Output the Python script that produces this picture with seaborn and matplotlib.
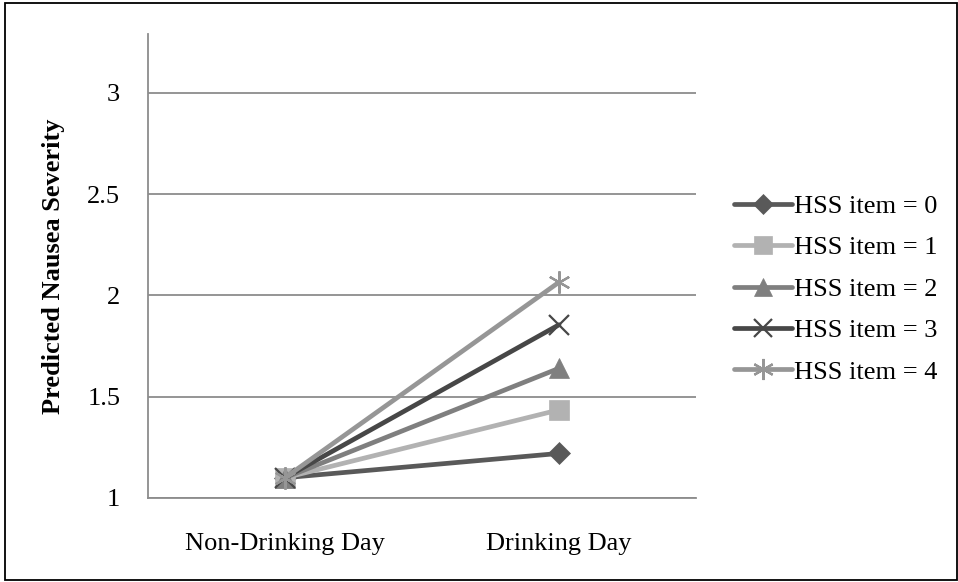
import matplotlib
matplotlib.use("Agg")
import matplotlib.pyplot as plt
import seaborn as sns
import pandas as pd
from matplotlib.patches import Rectangle

categories = ["Non-Drinking Day", "Drinking Day"]
series_names = ["HSS item = 0", "HSS item = 1", "HSS item = 2", "HSS item = 3", "HSS item = 4"]
hss0 = [1.10, 1.22]
hss1 = [1.10, 1.435]
hss2 = [1.10, 1.64]
hss3 = [1.10, 1.855]
hss4 = [1.10, 2.065]
yticks = [1, 1.5, 2, 2.5, 3]
ytick_labels = ["1", "1.5", "2", "2.5", "3"]

values = [hss0, hss1, hss2, hss3, hss4]
rows = []
for name, vals in zip(series_names, values):
    for i, v in enumerate(vals):
        rows.append({"pos": i, "value": v, "series": name})
df = pd.DataFrame(rows)

sns.set_theme(style="white")
plt.rcParams['font.family'] = ['Liberation Serif', 'DejaVu Serif']
plt.rcParams['text.color'] = 'black'
plt.rcParams['xtick.color'] = 'black'
plt.rcParams['ytick.color'] = 'black'
plt.rcParams['axes.labelcolor'] = 'black'

colors = {"HSS item = 0": "#595959", "HSS item = 1": "#b2b2b2", "HSS item = 2": "#7f7f7f",
          "HSS item = 3": "#474747", "HSS item = 4": "#969696"}
markers = {"HSS item = 0": "D", "HSS item = 1": "s", "HSS item = 2": "^",
           "HSS item = 3": "x", "HSS item = 4": (6, 2, 0)}
ms = {"HSS item = 0": 11, "HSS item = 1": 14, "HSS item = 2": 14,
      "HSS item = 3": 14, "HSS item = 4": 16}
mew = {"HSS item = 0": 0.5, "HSS item = 1": 0.5, "HSS item = 2": 0.5,
       "HSS item = 3": 1.6, "HSS item = 4": 1.6}

fig = plt.figure(figsize=(9.58, 5.82), dpi=100)
ax = fig.add_axes([148/958, 1-498/582, (696-148)/958, (498-34)/582])

for name in series_names:
    sub = df[df["series"] == name]
    sns.lineplot(data=sub, x="pos", y="value", color=colors[name], marker=markers[name],
                 markersize=ms[name], markeredgecolor=colors[name], markerfacecolor=colors[name],
                 markeredgewidth=mew[name], linewidth=3.4, ax=ax, zorder=3)

ax.set_xlim(-0.5, 1.5)
ax.set_ylim(1, 3.29)
ax.set_yticks(yticks)
ax.set_yticklabels(ytick_labels, fontsize=19)
ax.set_xticks([0, 1])
ax.set_xticklabels(categories, fontsize=19)
ax.set_xticks([-0.5, 0.5, 1.5], minor=True)
ax.tick_params(axis='x', which='major', length=0, pad=25, labelcolor="black")
ax.tick_params(axis='x', which='minor', length=7, width=1.2, color="#8c8c8c", direction='out')
ax.tick_params(axis='y', which='major', length=8, width=1.2, color="#8c8c8c",
               labelcolor="black", direction='out', pad=12)
ax.yaxis.grid(True, color="#8c8c8c", linewidth=1.3)
ax.set_axisbelow(True)
for s in ["top", "right"]:
    ax.spines[s].set_visible(False)
for s in ["left", "bottom"]:
    ax.spines[s].set_color("#8c8c8c")
    ax.spines[s].set_linewidth(1.3)
ax.set_xlabel("")
ax.set_ylabel("Predicted Nausea Severity", fontsize=19, fontweight="bold", color="black")
ax.yaxis.set_label_coords(-0.151, 0.5)

handles = [plt.Line2D([], [], color=colors[n], marker=markers[n], lw=3.4,
                      markersize=ms[n] * 0.95, markeredgecolor=colors[n],
                      markerfacecolor=colors[n], markeredgewidth=mew[n])
           for n in series_names]
leg = fig.legend(handles, series_names, loc="center left", bbox_to_anchor=(734/958, 1-289/582),
                 frameon=False, fontsize=19, handlelength=2.2, handletextpad=0.08,
                 labelspacing=0.68, borderaxespad=0, borderpad=0)
for t in leg.get_texts():
    t.set_color("black")

fig.patches.append(Rectangle((5/958, 2/582), 952/958, 577/582, transform=fig.transFigure,
                             fill=False, edgecolor="black", linewidth=1.3))

fig.savefig("out.png", dpi=100)
